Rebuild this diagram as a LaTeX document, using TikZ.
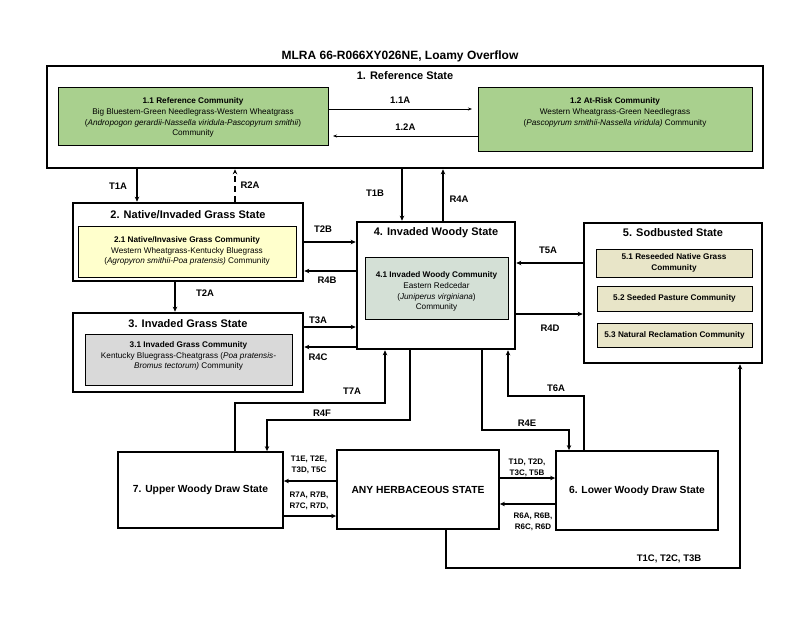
\documentclass[tikz,border=0pt]{standalone}
\usepackage{fontspec}
\setmainfont{Liberation Sans}
\usetikzlibrary{arrows.meta}
\definecolor{refgreen}{RGB}{169,208,142}
\definecolor{invyellow}{RGB}{255,255,204}
\definecolor{invgray}{RGB}{217,217,217}
\definecolor{woodygreen}{RGB}{212,224,214}
\definecolor{sodtan}{RGB}{232,229,200}
\tikzset{
  statebox/.style={draw, line width=2.6pt, inner sep=0pt},
  lowbox/.style={draw, line width=1.8pt, inner sep=0pt, font=\fontsize{10.3}{12}\selectfont\bfseries},
  commbox/.style={draw, line width=0.7pt, inner sep=0pt, align=center, font=\fontsize{8.2}{10.8}\selectfont},
  commtext/.style={inner sep=0pt, align=center, font=\fontsize{8.2}{10.8}\selectfont},
  stitle/.style={font=\fontsize{11}{13}\selectfont\bfseries, inner sep=0pt},
  arr/.style={line width=1.3pt, -{Stealth[length=5pt,width=4.5pt]}},
  thinarr/.style={line width=0.6pt, -{Stealth[length=4pt,width=3pt]}},
  lab/.style={font=\fontsize{9.5}{11}\selectfont\bfseries, inner sep=0pt},
  smlab/.style={font=\fontsize{8}{11}\selectfont\bfseries, inner sep=0pt, align=center},
}
\begin{document}
\begin{tikzpicture}[x=1pt,y=-1pt]
\useasboundingbox (0,0) rectangle (800,618);
\node[font=\fontsize{12}{14}\selectfont\bfseries] (title) at (400,56) {MLRA 66-R066XY026NE, Loamy Overflow};

% State 1
\node[statebox, minimum width=716pt, minimum height=102pt] (s1) at (405,117) {};
\node[stitle] (s1t) at (405,76) {1. Reference State};
\node[commbox, fill=refgreen, minimum width=270pt, minimum height=58pt] (c11) at (193,116) {};
\node[commtext] (c11t) at (193,117.5)
  {\textbf{1.1 Reference Community}\\Big Bluestem-Green Needlegrass-Western Wheatgrass\\(\textit{Andropogon gerardii-Nassella viridula-Pascopyrum smithii})\\Community};
\node[commbox, fill=refgreen, minimum width=274pt, minimum height=64pt] (c12) at (615,119) {};
\node[commtext] (c12t) at (615,112.5)
  {\textbf{1.2 At-Risk Community}\\Western Wheatgrass-Green Needlegrass\\(\textit{Pascopyrum smithii-Nassella viridula)} Community};
\draw[thinarr] (c11.east |- 0,109) -- node[lab, above=5pt]{1.1A} (472,109);
\draw[thinarr] (c12.west |- 0,136) -- node[lab, above=5pt]{1.2A} (333,136);

% State 2
\node[statebox, minimum width=230pt, minimum height=78pt] (s2) at (188,242) {};
\node[stitle] (s2t) at (188,215) {2. Native/Invaded Grass State};
\node[commbox, fill=invyellow, minimum width=218pt, minimum height=51pt] (c21) at (187,251.5) {};
\node[commtext] (c21t) at (187,251)
  {\textbf{2.1 Native/Invasive Grass Community}\\Western Wheatgrass-Kentucky Bluegrass\\(\textit{Agropyron smithii-Poa pratensis)} Community};

% State 3
\node[statebox, minimum width=230pt, minimum height=79pt] (s3) at (188,352.5) {};
\node[stitle] (s3t) at (188,324) {3. Invaded Grass State};
\node[commbox, fill=invgray, minimum width=207pt, minimum height=51pt] (c31) at (188.5,359.5) {};
\node[commtext] (c31t) at (188.5,356)
  {\textbf{3.1 Invaded Grass Community}\\Kentucky Bluegrass-Cheatgrass (\textit{Poa pratensis-}\\\textit{Bromus tectorum)} Community};

% State 4
\node[statebox, minimum width=158pt, minimum height=127pt] (s4) at (436,285.5) {};
\node[stitle] (s4t) at (436,233) {4. Invaded Woody State};
\node[commbox, fill=woodygreen, minimum width=143pt, minimum height=62pt] (c41) at (436.5,288) {};
\node[commtext] (c41t) at (436.5,291.5)
  {\textbf{4.1 Invaded Woody Community}\\Eastern Redcedar\\(\textit{Juniperus virginiana})\\Community};

% State 5
\node[statebox, minimum width=178pt, minimum height=140pt] (s5) at (673,293) {};
\node[stitle] (s5t) at (673,233) {5. Sodbusted State};
\node[commbox, fill=sodtan, minimum width=156pt, minimum height=28pt, font=\fontsize{8.2}{10.8}\selectfont\bfseries] (c51) at (674,263) {5.1 Reseeded Native Grass\\Community};
\node[commbox, fill=sodtan, minimum width=155pt, minimum height=25pt, font=\fontsize{8.2}{10.8}\selectfont\bfseries] (c52) at (674.5,298.5) {5.2 Seeded Pasture Community};
\node[commbox, fill=sodtan, minimum width=155pt, minimum height=24pt, font=\fontsize{8.2}{10.8}\selectfont\bfseries] (c53) at (674.5,335) {5.3 Natural Reclamation Community};

% Bottom states
\node[lowbox, minimum width=165pt, minimum height=76pt] (s7) at (200.5,490) {7. Upper Woody Draw State};
\node[lowbox, minimum width=162pt, minimum height=79pt] (any) at (418,489.5) {ANY HERBACEOUS STATE};
\node[lowbox, minimum width=162pt, minimum height=79pt] (s6) at (637,490.5) {6. Lower Woody Draw State};

% coordinates for bends
\coordinate (t7a1) at (235,403);
\coordinate (t7a2) at (385,403);
\coordinate (r4f1) at (410,420);
\coordinate (r4f2) at (267,420);
\coordinate (r4e1) at (482,430);
\coordinate (r4e2) at (569,430);
\coordinate (t6a1) at (584,396);
\coordinate (t6a2) at (508,396);
\coordinate (tc1) at (446,568);
\coordinate (tc2) at (740,568);

% Vertical transitions top
\draw[arr] (s1.south -| 137,0) -- (s2.north -| 137,0);
\node[lab] (lT1A) at (118,186) {T1A};
\draw[arr, dash pattern=on 6pt off 4pt] (s2.north -| 235,0) -- (s1.south -| 235,0);
\node[lab] (lR2A) at (250,185) {R2A};
\draw[arr] (s2.south -| 175,0) -- (s3.north -| 175,0);
\node[lab] (lT2A) at (205,293) {T2A};
\draw[arr] (s1.south -| 402,0) -- (s4.north -| 402,0);
\node[lab] (lT1B) at (375,193) {T1B};
\draw[arr] (s4.north -| 443,0) -- (s1.south -| 443,0);
\node[lab] (lR4A) at (459,199) {R4A};

% Horizontal transitions
\draw[arr] (s2.east |- 0,242) -- (s4.west |- 0,242);
\node[lab] (lT2B) at (323,229) {T2B};
\draw[arr] (s4.west |- 0,271) -- (s2.east |- 0,271);
\node[lab] (lR4B) at (327,280) {R4B};
\draw[arr] (s3.east |- 0,327) -- (s4.west |- 0,327);
\node[lab] (lT3A) at (318,320) {T3A};
\draw[arr] (s4.west |- 0,347) -- (s3.east |- 0,347);
\node[lab] (lR4C) at (318,357) {R4C};
\draw[arr] (s5.west |- 0,263) -- (s4.east |- 0,263);
\node[lab] (lT5A) at (548,250) {T5A};
\draw[arr] (s4.east |- 0,314) -- (s5.west |- 0,314);
\node[lab] (lR4D) at (550,328) {R4D};

% Bent transitions
\draw[arr] (s7.north -| t7a1) -- (t7a1) -- (t7a2) -- (s4.south -| t7a2);
\node[lab] (lT7A) at (352,391) {T7A};
\draw[arr] (s4.south -| r4f1) -- (r4f1) -- (r4f2) -- (s7.north -| r4f2);
\node[lab] (lR4F) at (322,413) {R4F};
\draw[arr] (s4.south -| r4e1) -- (r4e1) -- (r4e2) -- (s6.north -| r4e2);
\node[lab] (lR4E) at (527,423) {R4E};
\draw[arr] (s6.north -| t6a1) -- (t6a1) -- (t6a2) -- (s4.south -| t6a2);
\node[lab] (lT6A) at (556,388) {T6A};
\draw[arr] (any.south -| tc1) -- (tc1) -- (tc2) -- (s5.south -| tc2);
\node[lab] (lT1C) at (669,559) {T1C, T2C, T3B};

% Bottom horizontal
\draw[arr] (any.west |- 0,481) -- (s7.east |- 0,481);
\node[smlab] (lT1E) at (309,465) {T1E, T2E,\\T3D, T5C};
\draw[arr] (s7.east |- 0,516) -- (any.west |- 0,516);
\node[smlab] (lR7A) at (309,501) {R7A, R7B,\\R7C, R7D,};
\draw[arr] (any.east |- 0,478) -- (s6.west |- 0,478);
\node[smlab] (lT1D) at (527,468) {T1D, T2D,\\T3C, T5B};
\draw[arr] (s6.west |- 0,504) -- (any.east |- 0,504);
\node[smlab] (lR6A) at (533,522) {R6A, R6B,\\R6C, R6D};
\end{tikzpicture}
\end{document}
